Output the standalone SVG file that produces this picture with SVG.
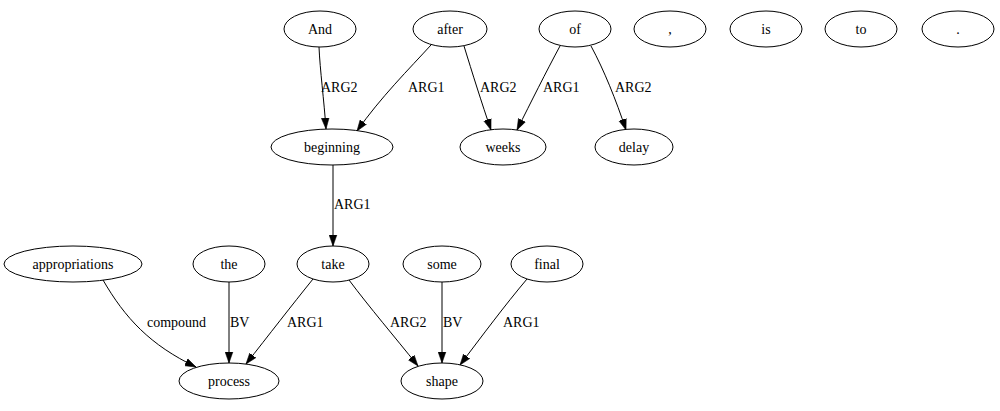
<svg xmlns="http://www.w3.org/2000/svg" width="1000" height="411" viewBox="0 0 1000 411">
<style>
.n ellipse{fill:none;stroke:#000;stroke-width:1}
.e path{fill:none;stroke:#000;stroke-width:1;marker-end:url(#ah)}
</style>
<defs>
<marker id="ah" markerUnits="userSpaceOnUse" markerWidth="11" markerHeight="9" refX="10" refY="3.5" orient="auto" viewBox="0 0 10 7">
<path d="M0,0 L10,3.5 L0,7 Z" fill="#000" stroke="#000" stroke-width="0.5"/>
</marker>
</defs>
<rect width="1000" height="411" fill="#fff"/>
<g font-family="Liberation Serif, Times New Roman, serif" font-size="14" fill="#000">
<g id="edges" class="e">
<path d="M319,47 C320,70 324,100 326,129"/>
<text x="321" y="92">ARG2</text>
<path d="M431,45 C410,68 380,98 357,131"/>
<text x="408" y="92">ARG1</text>
<path d="M464,46 C472,72 482,104 491,130"/>
<text x="480" y="92">ARG2</text>
<path d="M560,46 C546,72 531,102 517,130"/>
<text x="543" y="92">ARG1</text>
<path d="M591,46 C604,70 616,100 626,130"/>
<text x="615" y="92">ARG2</text>
<path d="M333,165 L333,246"/>
<text x="334" y="209">ARG1</text>
<path d="M103,280 C125,318 150,345 196,367"/>
<text x="147" y="327">compound</text>
<path d="M229,282 L229,363"/>
<text x="230" y="327">BV</text>
<path d="M313,279 C292,305 268,336 246,364"/>
<text x="287" y="327">ARG1</text>
<path d="M349,280 C370,308 394,336 418,366"/>
<text x="390" y="327">ARG2</text>
<path d="M442,282 L442,363"/>
<text x="443" y="327">BV</text>
<path d="M527,279 C505,305 482,336 460,365"/>
<text x="503" y="327">ARG1</text>
</g>
<g text-anchor="middle">
<g id="n-And" class="n"><ellipse cx="320" cy="29" rx="36" ry="18"/><text x="320" y="34">And</text></g>
<g id="n-after" class="n"><ellipse cx="450" cy="29" rx="37" ry="18"/><text x="450" y="34">after</text></g>
<g id="n-of" class="n"><ellipse cx="575" cy="29" rx="36" ry="18"/><text x="575" y="34">of</text></g>
<g id="n-comma" class="n"><ellipse cx="670" cy="29" rx="36" ry="18"/><text x="670" y="34">,</text></g>
<g id="n-is" class="n"><ellipse cx="766" cy="29" rx="36" ry="18"/><text x="766" y="34">is</text></g>
<g id="n-to" class="n"><ellipse cx="861" cy="29" rx="36" ry="18"/><text x="861" y="34">to</text></g>
<g id="n-period" class="n"><ellipse cx="958" cy="29" rx="36" ry="18"/><text x="958" y="34">.</text></g>
<g id="n-beginning" class="n"><ellipse cx="332" cy="147" rx="61" ry="18"/><text x="332" y="152">beginning</text></g>
<g id="n-weeks" class="n"><ellipse cx="503" cy="147" rx="43" ry="18"/><text x="503" y="152">weeks</text></g>
<g id="n-delay" class="n"><ellipse cx="634" cy="147" rx="39" ry="18"/><text x="634" y="152">delay</text></g>
<g id="n-appropriations" class="n"><ellipse cx="73" cy="264" rx="69" ry="18"/><text x="73" y="269">appropriations</text></g>
<g id="n-the" class="n"><ellipse cx="229" cy="264" rx="36" ry="18"/><text x="229" y="269">the</text></g>
<g id="n-take" class="n"><ellipse cx="333" cy="264" rx="36" ry="18"/><text x="333" y="269">take</text></g>
<g id="n-some" class="n"><ellipse cx="442" cy="264" rx="39" ry="18"/><text x="442" y="269">some</text></g>
<g id="n-final" class="n"><ellipse cx="547" cy="264" rx="36" ry="18"/><text x="547" y="269">final</text></g>
<g id="n-process" class="n"><ellipse cx="229" cy="381" rx="50" ry="18"/><text x="229" y="386">process</text></g>
<g id="n-shape" class="n"><ellipse cx="442" cy="381" rx="41" ry="18"/><text x="442" y="386">shape</text></g>
</g>
</g>
</svg>
